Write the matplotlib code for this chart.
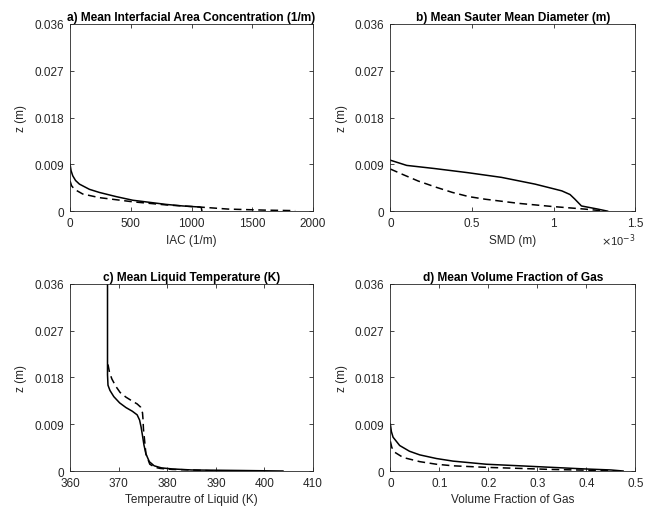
import matplotlib
matplotlib.use("Agg")
import matplotlib.pyplot as plt

plt.rcParams['font.family'] = ['Liberation Sans', 'DejaVu Sans']
plt.rcParams['font.size'] = 8.5

DARK = '#262626'

# a) interfacial area concentration (1/m) vs z (m)
iac_solid_x = [0, 8, 22, 45, 77, 159, 241, 379, 516, 653, 790, 927, 1064, 1080, 1085]
iac_solid_z = [0.0090, 0.0078, 0.0068, 0.0059, 0.0052, 0.0042, 0.0036, 0.0028, 0.0021, 0.0017, 0.0013, 0.0010, 0.0008, 0.0007, 0.0]
iac_dash_x = [0, 12, 36, 104, 241, 379, 516, 790, 1064, 1300, 1600, 1852]
iac_dash_z = [0.0058, 0.0049, 0.0042, 0.0033, 0.0026, 0.0022, 0.0018, 0.0012, 0.0008, 0.0004, 0.0002, 0.0001]

# b) Sauter mean diameter (m)
smd_solid_x = [0, 0.10e-3, 0.27e-3, 0.475e-3, 0.68e-3, 0.886e-3, 1.0e-3, 1.05e-3, 1.10e-3, 1.13e-3, 1.17e-3, 1.27e-3, 1.33e-3]
smd_solid_z = [0.0098, 0.0088, 0.0082, 0.0074, 0.0065, 0.0052, 0.0043, 0.0039, 0.0032, 0.0023, 0.0010, 0.0004, 0.0]
smd_dash_x = [0, 0.08e-3, 0.17e-3, 0.28e-3, 0.38e-3, 0.48e-3, 0.58e-3, 0.785e-3, 0.99e-3, 1.19e-3, 1.32e-3]
smd_dash_z = [0.0081, 0.0070, 0.0058, 0.0046, 0.0036, 0.0028, 0.0023, 0.0015, 0.0009, 0.0004, 0.0]

# c) liquid temperature (K)
temp_solid_x = [367.7, 367.7, 367.8, 368.2, 369.0, 370.2, 371.5, 372.8, 373.8, 374.3, 374.6, 374.9,
                375.2, 375.6, 376.3, 377.3, 378.8, 381.0, 385.0, 395.0, 403.8]
temp_solid_z = [0.036, 0.0185, 0.0165, 0.0155, 0.0143, 0.0131, 0.0122, 0.0115, 0.0108, 0.0098, 0.0085, 0.0068,
                0.0050, 0.0033, 0.0018, 0.0010, 0.0006, 0.0004, 0.0002, 0.0001, 0.0]
temp_dash_x = [367.8, 368.1, 368.6, 369.4, 370.3, 371.5, 372.7, 373.8, 374.5, 374.9, 375.0, 375.1, 375.3,
               375.6, 376.4, 377.5, 378.5, 381.0, 385.0, 390.0]
temp_dash_z = [0.0205, 0.0190, 0.0177, 0.0163, 0.0151, 0.0142, 0.0135, 0.0129, 0.0123, 0.0112, 0.0100, 0.0080,
               0.0062, 0.0033, 0.0013, 0.0007, 0.0005, 0.0003, 0.0002, 0.0]

# d) volume fraction of gas
vf_solid_x = [0, 0.002, 0.0055, 0.019, 0.039, 0.060, 0.094, 0.128, 0.196, 0.264, 0.33, 0.396, 0.45, 0.475]
vf_solid_z = [0.0090, 0.0076, 0.0065, 0.0049, 0.0038, 0.0031, 0.0024, 0.0019, 0.0013, 0.0010, 0.0007, 0.0004, 0.0002, 0.0]
vf_dash_x = [0, 0.003, 0.009, 0.026, 0.060, 0.094, 0.128, 0.196, 0.264, 0.328, 0.43, 0.47]
vf_dash_z = [0.0057, 0.0045, 0.0036, 0.0026, 0.0018, 0.0013, 0.0010, 0.0007, 0.0005, 0.0003, 0.0001, 0.0]

z_ticks = [0, 0.009, 0.018, 0.027, 0.036]
z_labels = ['0', '0.009', '0.018', '0.027', '0.036']

fig = plt.figure(figsize=(6.55, 5.10), dpi=100)

panels = [
    ([0.107, 0.584, 0.371, 0.367], iac_solid_x, iac_solid_z, iac_dash_x, iac_dash_z,
     (0, 2000), [0, 500, 1000, 1500, 2000], ['0', '500', '1000', '1500', '2000'], 'IAC (1/m)',
     'a) Mean Interfacial Area Concentration (1/m)'),
    ([0.596, 0.584, 0.374, 0.367], smd_solid_x, smd_solid_z, smd_dash_x, smd_dash_z,
     (0, 1.5e-3), [0, 0.5e-3, 1e-3, 1.5e-3], ['0', '0.5', '1', '1.5'], 'SMD (m)',
     'b) Mean Sauter Mean Diameter (m)'),
    ([0.107, 0.0745, 0.371, 0.367], temp_solid_x, temp_solid_z, temp_dash_x, temp_dash_z,
     (360, 410), [360, 370, 380, 390, 400, 410], ['360', '370', '380', '390', '400', '410'],
     'Temperautre of Liquid (K)', 'c) Mean Liquid Temperature (K)'),
    ([0.596, 0.0745, 0.374, 0.367], vf_solid_x, vf_solid_z, vf_dash_x, vf_dash_z,
     (0, 0.5), [0, 0.1, 0.2, 0.3, 0.4, 0.5], ['0', '0.1', '0.2', '0.3', '0.4', '0.5'],
     'Volume Fraction of Gas', 'd) Mean Volume Fraction of Gas'),
]

for rect, sx, sz, dx, dz, xlim, xticks, xticklabels, xlabel, title in panels:
    ax = fig.add_axes(rect)
    ax.plot(sx, sz, color='black', lw=1.1, ls='-')
    ax.plot(dx, dz, color='black', lw=1.1, ls=(0, (5, 3)))
    ax.set_xlim(*xlim)
    ax.set_ylim(0, 0.036)
    ax.set_xticks(xticks)
    ax.set_xticklabels(xticklabels)
    ax.set_yticks(z_ticks)
    ax.set_yticklabels(z_labels)
    ax.set_xlabel(xlabel, color=DARK, labelpad=3)
    ax.set_ylabel('z (m)', color=DARK, labelpad=5)
    ax.set_title(title, fontweight='bold', fontsize=8.6, pad=3)
    ax.tick_params(direction='in', top=True, right=True, length=3, width=0.6,
                   colors=DARK, labelsize=8.5, pad=4.5)
    for sp in ax.spines.values():
        sp.set_color(DARK)
        sp.set_linewidth(0.6)
    if xlim[1] < 0.01:
        # MATLAB-style exponent label under the right end of the axis
        ax.text(1.0, -0.11, r'$\times$10$^{-3}$', transform=ax.transAxes,
                ha='right', va='top', fontsize=8, color=DARK)

fig.savefig('out.png', dpi=100)
